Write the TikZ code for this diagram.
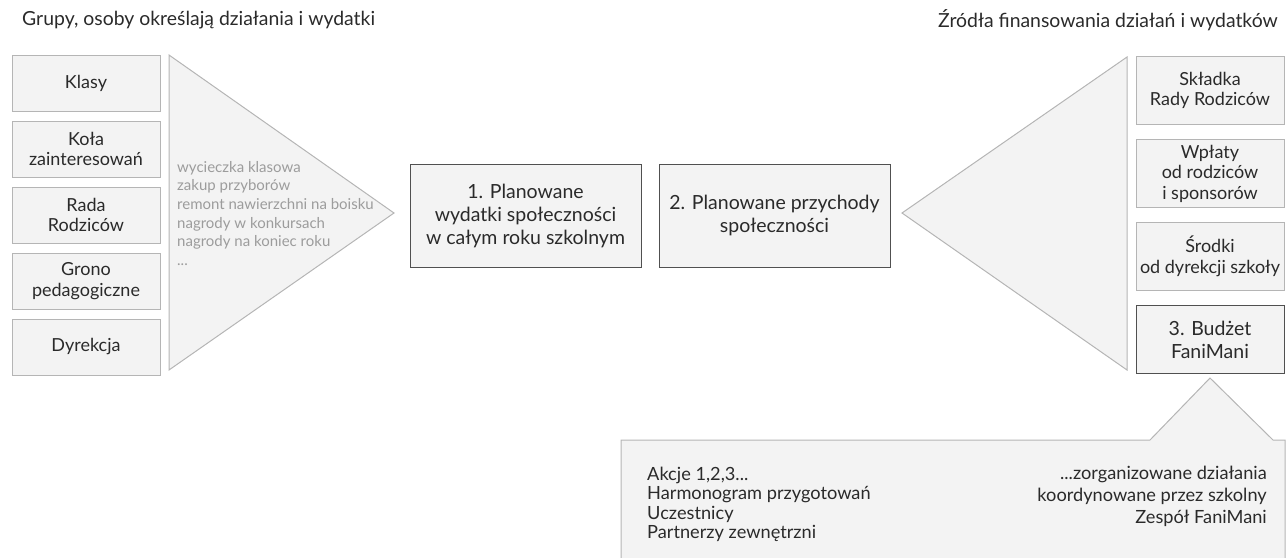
\documentclass[tikz,border=0pt]{standalone}
\usepackage{fontspec}
\setmainfont{Lato}
\usetikzlibrary{positioning}
\definecolor{boxfill}{HTML}{F3F3F3}
\definecolor{boxline}{HTML}{B5B5B5}
\definecolor{darkline}{HTML}{505050}
\definecolor{listtext}{HTML}{9C9C9C}
\definecolor{maintext}{HTML}{2A2A2A}

\begin{document}
\begin{tikzpicture}[x=1pt,y=-1pt,node distance=9pt,
        group node/.style={rectangle,draw=boxline,fill=boxfill,line width=1pt,
            minimum width=148pt,minimum height=56pt,inner sep=0pt,align=center,
            text=maintext,font=\fontsize{18}{20.5}\selectfont},
        source node/.style={group node,minimum height=68pt},
        plan node/.style={group node,draw=darkline,minimum width=231pt,minimum height=103pt,
            font=\fontsize{19.5}{23}\selectfont},
        arrow shape/.style={draw=boxline,fill=boxfill,line width=1pt,line join=miter},
        title node/.style={inner sep=0pt,text=maintext,font=\fontsize{19.4}{22}\selectfont}]

    \useasboundingbox (0,0) rectangle (1287,557);

    % titles
    \node[title node,anchor=west] (lefttitle) at (22,20) {Grupy, osoby określają działania i wydatki};
    \node[title node,anchor=east] (righttitle) at (1278,20) {Źródła finansowania działań i wydatków};

    % left column
    \node[group node] (klasy) at (86,83) {Klasy};
    \node[group node] (kola) [below=of klasy] {Koła\\zainteresowań};
    \node[group node] (rada) [below=of kola] {Rada\\Rodziców};
    \node[group node] (grono) [below=of rada] {Grono\\pedagogiczne};
    \node[group node] (dyrekcja) [below=of grono] {Dyrekcja};

    % left arrow with examples
    \coordinate (ltop) at (169,55);
    \coordinate (ltip) at (394,213);
    \coordinate (lbot) at (169,370);
    \draw[arrow shape] (ltop) -- (ltip) -- (lbot) -- cycle;
    \node[anchor=north west,inner sep=0pt,align=left,text=listtext,
          font=\fontsize{15}{18.6}\selectfont] (wydatki) at (177,161)
        {wycieczka klasowa\\zakup przyborów\\remont nawierzchni na boisku\\
         nagrody w konkursach\\nagrody na koniec roku\\...};

    % plans
    \node[plan node] (plan1) at (525.5,215.5) {1. Planowane\\wydatki społeczności\\w całym roku szkolnym};
    \node[plan node] (plan2) [right=17pt of plan1] {2. Planowane przychody\\społeczności};

    % right arrow
    \coordinate (rtop) at (1127,57);
    \coordinate (rtip) at (902,213);
    \coordinate (rbot) at (1127,370);
    \draw[arrow shape] (rtop) -- (rtip) -- (rbot) -- cycle;

    % right column
    \node[source node] (skladka) at (1210,90.5) {Składka\\Rady Rodziców};
    \node[source node] (wplaty) [below=14pt of skladka] {Wpłaty\\od rodziców\\i sponsorów};
    \node[source node] (srodki) [below=14pt of wplaty] {Środki\\od dyrekcji szkoły};
    \node[source node,draw=darkline,font=\fontsize{19.5}{23}\selectfont] (budzet) [below=14pt of srodki] {3. Budżet\\FaniMani};

    % callout under budget
    \coordinate (cleft) at (621,440);
    \coordinate (ctipl) at (1150,440);
    \coordinate (ctip) at (1210,378);
    \coordinate (ctipr) at (1273,440);
    \draw[arrow shape] (cleft) -- (ctipl) -- (ctip) -- (ctipr) -- (1285,440)
        -- (1285,560) -- (621,560) -- cycle;
    \node[anchor=north west,inner sep=0pt,align=left,text=maintext,
          font=\fontsize{18.2}{19.2}\selectfont] (akcje) at (647,467)
        {Akcje 1,2,3...\\Harmonogram przygotowań\\Uczestnicy\\Partnerzy zewnętrzni};
    \node[anchor=north east,inner sep=0pt,align=right,text=maintext,
          font=\fontsize{18.2}{21.7}\selectfont] (zespol) at (1267,466)
        {...zorganizowane działania\\koordynowane przez szkolny\\Zespół FaniMani};
\end{tikzpicture}
\end{document}
